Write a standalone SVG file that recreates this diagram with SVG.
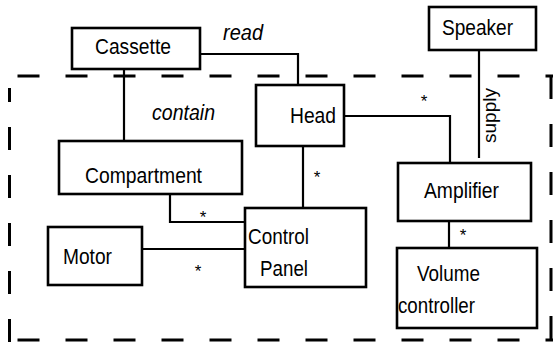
<svg xmlns="http://www.w3.org/2000/svg" width="553" height="343" viewBox="0 0 553 343">
<style>
.box{fill:#fff;stroke:#000;stroke-width:2.6}
.lbl{font-family:"Liberation Sans",Arial,sans-serif;font-size:22px;fill:#000}
.it{font-family:"Liberation Sans",Arial,sans-serif;font-size:22px;font-style:italic;fill:#000}
.star{font-family:"Liberation Sans",Arial,sans-serif;font-size:17px;fill:#000;text-anchor:middle}
.con{fill:none;stroke:#000;stroke-width:2.2}
.dash{fill:none;stroke:#000;stroke-width:3;stroke-dasharray:22 26}
.dashv{fill:none;stroke:#000;stroke-width:3;stroke-dasharray:23 25}
</style>
<rect width="553" height="343" fill="#fff"/>
<g id="boundary">
<line class="dash" x1="17.5" y1="76" x2="553" y2="76"/>
<line class="dash" x1="17.5" y1="340" x2="553" y2="340"/>
<line class="dashv" x1="9.5" y1="88" x2="9.5" y2="342" stroke-dashoffset="9"/>
<line class="dashv" x1="551" y1="76" x2="551" y2="342"/>
</g>
<g id="connectors">
<polyline class="con" points="200,54 298,54 298,85"/>
<line class="con" x1="124" y1="69" x2="124" y2="141"/>
<polyline class="con" points="344,116 450,116 450,163"/>
<line class="con" x1="479" y1="50" x2="479" y2="158"/>
<line class="con" x1="303" y1="146" x2="303" y2="208"/>
<polyline class="con" points="170,194 170,222 245,222"/>
<line class="con" x1="142" y1="249" x2="245" y2="249"/>
<line class="con" x1="449" y1="221" x2="449" y2="248"/>
<text class="it" x="223" y="40" textLength="40" lengthAdjust="spacingAndGlyphs">read</text>
<text class="it" x="152" y="120" textLength="63" lengthAdjust="spacingAndGlyphs">contain</text>
<text class="lbl" transform="translate(496,143) rotate(-90)" style="font-size:18px" textLength="55" lengthAdjust="spacingAndGlyphs">supply</text>
<text class="star" x="424" y="107">*</text>
<text class="star" x="317" y="183">*</text>
<text class="star" x="203" y="223">*</text>
<text class="star" x="198" y="277">*</text>
<text class="star" x="463" y="241">*</text>
</g>
<g id="cassette">
<rect class="box" x="72" y="28" width="128" height="41"/>
<text class="lbl" x="95" y="54" textLength="76" lengthAdjust="spacingAndGlyphs">Cassette</text>
</g>
<g id="speaker">
<rect class="box" x="429" y="7" width="107" height="43"/>
<text class="lbl" x="442" y="35" textLength="71" lengthAdjust="spacingAndGlyphs">Speaker</text>
</g>
<g id="head">
<rect class="box" x="256" y="85" width="88" height="61"/>
<text class="lbl" x="290" y="123" textLength="46" lengthAdjust="spacingAndGlyphs">Head</text>
</g>
<g id="compartment">
<rect class="box" x="59" y="141" width="183" height="53"/>
<text class="lbl" x="85" y="183" textLength="117" lengthAdjust="spacingAndGlyphs">Compartment</text>
</g>
<g id="amplifier">
<rect class="box" x="398" y="163" width="133" height="58"/>
<text class="lbl" x="424" y="198" textLength="75" lengthAdjust="spacingAndGlyphs">Amplifier</text>
</g>
<g id="motor">
<rect class="box" x="48" y="227" width="94" height="58"/>
<text class="lbl" x="63" y="264" textLength="49" lengthAdjust="spacingAndGlyphs">Motor</text>
</g>
<g id="control-panel">
<rect class="box" x="245" y="208" width="121" height="79"/>
<text class="lbl" x="248" y="244" textLength="61" lengthAdjust="spacingAndGlyphs">Control</text>
<text class="lbl" x="260" y="276" textLength="48" lengthAdjust="spacingAndGlyphs">Panel</text>
</g>
<g id="volume-controller">
<rect class="box" x="397" y="248" width="140" height="80"/>
<text class="lbl" x="417" y="281" textLength="63" lengthAdjust="spacingAndGlyphs">Volume</text>
<text class="lbl" x="398" y="313" textLength="77" lengthAdjust="spacingAndGlyphs">controller</text>
</g>
</svg>
